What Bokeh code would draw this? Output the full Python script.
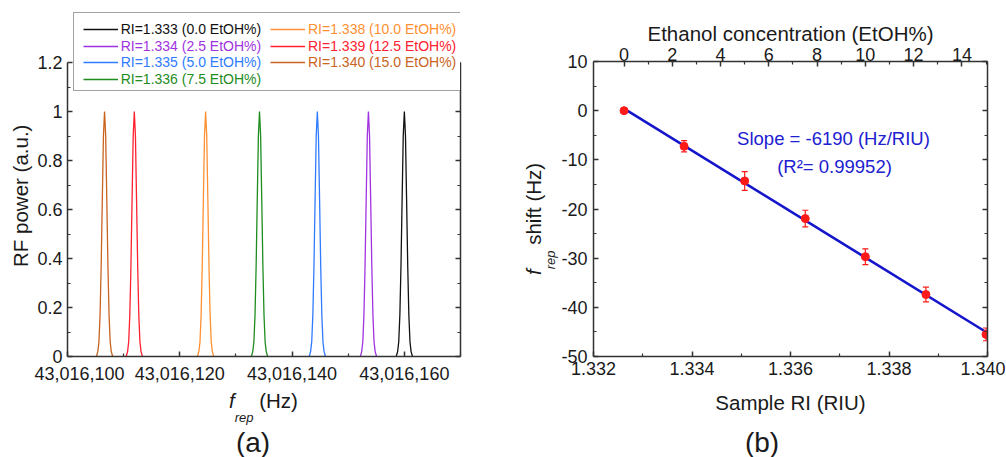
import numpy as np
from bokeh.plotting import figure
from bokeh.layouts import row, column
from bokeh.models import (LinearAxis, Range1d, FixedTicker, NumeralTickFormatter,
                          CustomJSTickFormatter, Legend, LegendItem, Label, Whisker,
                          ColumnDataSource, TeeHead, Div)
from bokeh.embed import file_html
from bokeh.resources import INLINE

FONT = "Liberation Sans"
AXC = "#333333"
TXT = "#1a1a1a"

# ---------------- data: panel (a) ----------------
peak_labels = ["RI=1.333 (0.0 EtOH%)", "RI=1.334 (2.5 EtOH%)", "RI=1.335 (5.0 EtOH%)",
               "RI=1.336 (7.5 EtOH%)", "RI=1.338 (10.0 EtOH%)", "RI=1.339 (12.5 EtOH%)",
               "RI=1.340 (15.0 EtOH%)"]
peak_colors = ["#111111", "#A033E0", "#2F7BFF", "#1E8C1E", "#FF9033", "#FF2030", "#C8641E"]
peak_centers = [43016160.0, 43016153.6, 43016144.5, 43016134.2, 43016124.6, 43016111.9, 43016106.6]
peak_offsets = [-1.45, -1.2, -1.0, -0.8, -0.6, -0.4, -0.2, 0.0, 0.2, 0.4, 0.6, 0.8, 1.0, 1.2, 1.45]
peak_profile = [0.0, 0.02, 0.06, 0.17, 0.37, 0.64, 0.9, 1.0, 0.9, 0.64, 0.37, 0.17, 0.06, 0.02, 0.0]
a_xticks = [43016100, 43016120, 43016140, 43016160]
a_xminor = [43016110, 43016130, 43016150, 43016170]
a_yticks = [0, 0.2, 0.4, 0.6, 0.8, 1.0, 1.2]
a_yminor = [0.1, 0.3, 0.5, 0.7, 0.9, 1.1]

# ---------------- data: panel (b) ----------------
ri = [1.33262, 1.33384, 1.33507, 1.33630, 1.33752, 1.33875, 1.33997]
etoh = [0, 2.5, 5.0, 7.5, 10.0, 12.5, 15.0]
shift = [0.0, -7.25, -14.3, -21.95, -29.7, -37.4, -45.5]
shift_err = [0.0, 1.15, 1.9, 1.7, 1.6, 1.5, 1.3]
b_xticks = [1.332, 1.334, 1.336, 1.338, 1.340]
b_xminor = [1.333, 1.335, 1.337, 1.339]
b_yticks = [-50, -40, -30, -20, -10, 0, 10]
b_yminor = [-45, -35, -25, -15, -5, 5]
b_tticks = [0, 2, 4, 6, 8, 10, 12, 14]
b_tminor = [1, 3, 5, 7, 9, 11, 13, 15]


def style_axis(ax, labels=True, size="18px"):
    ax.axis_line_color = AXC
    ax.axis_line_width = 1.5
    ax.major_tick_line_color = AXC
    ax.major_tick_line_width = 1.5
    ax.minor_tick_line_color = AXC
    ax.minor_tick_line_width = 1.2
    ax.major_tick_in = 5
    ax.major_tick_out = 0
    ax.minor_tick_in = 3
    ax.minor_tick_out = 0
    ax.major_label_text_font = FONT
    ax.major_label_text_font_size = size
    ax.major_label_text_color = TXT
    ax.axis_label_text_font = FONT
    ax.axis_label_text_font_size = "20.5px"
    ax.axis_label_text_font_style = "normal"
    ax.axis_label_text_color = TXT
    if not labels:
        ax.formatter = CustomJSTickFormatter(code="return ''")
        ax.major_label_standoff = 0


def add_label(p, text, sx, sy, size, color=TXT, style="normal", align="center",
              baseline="middle", angle=0.0):
    p.add_layout(Label(x=sx, y=sy, x_units="screen", y_units="screen", text=text,
                       text_font=FONT, text_font_size=size, text_font_style=style,
                       text_color=color, text_align=align, text_baseline=baseline,
                       angle=angle))


SUB = "font-size:13px;font-style:italic;vertical-align:-14px;line-height:0;"
BASE = f"font-family:'{FONT}';color:{TXT};white-space:nowrap;line-height:1;"
ROT = "position:absolute;transform-origin:0 0;transform:rotate(-90deg);font-size:20.5px;"

# ======================= panel (a) =======================
YA_W = 34                                  # width of the rotated y-title strip
A_LEFT, A_BOTTOM, A_TOP1 = 67, 356, 62    # frame left/bottom, pixel row of y=1.2
A_FTOP = 12                                # frame top (above legend box)
A_RIGHT = 460
PA_W = 505 - YA_W
a_ymax = a_yticks[-1] * (A_BOTTOM - A_FTOP) / (A_BOTTOM - A_TOP1)
pa = figure(width=PA_W, height=386, x_range=Range1d(43016100, 43016170),
            y_range=Range1d(0, a_ymax),
            output_backend="svg", toolbar_location=None,
            min_border_left=A_LEFT - YA_W, min_border_right=505 - A_RIGHT,
            min_border_top=A_FTOP, min_border_bottom=386 - A_BOTTOM)
pa.xgrid.visible = False
pa.ygrid.visible = False
pa.outline_line_color = None
pa.background_fill_color = "white"
pa.border_fill_color = None

peak_renderers = []
for lab, col, c in zip(peak_labels, peak_colors, peak_centers):
    peak_renderers.append(pa.line([c + o for o in peak_offsets], peak_profile,
                                  line_color=col, line_width=1.3))

xa = pa.xaxis[0]
xa.ticker = FixedTicker(ticks=a_xticks, minor_ticks=a_xminor)
xa.formatter = NumeralTickFormatter(format="0,0")
style_axis(xa)
xa.major_label_standoff = 10

ya = pa.yaxis[0]
ya.ticker = FixedTicker(ticks=a_yticks, minor_ticks=a_yminor)
ya.formatter = CustomJSTickFormatter(code="return Number(tick.toFixed(1)).toString()")
style_axis(ya)
ya.bounds = (a_yticks[0], a_yticks[-1])
ya.major_label_standoff = 5

ra = LinearAxis(ticker=FixedTicker(ticks=a_yticks, minor_ticks=a_yminor))
style_axis(ra, labels=False)
ra.bounds = (a_yticks[0], a_yticks[-1])
pa.add_layout(ra, "right")

# legend frame (invisible item sized to the box)
dummy = pa.line(x=[0], y=[0], line_alpha=0)
box = Legend(items=[LegendItem(label=" ", renderers=[dummy])],
             location=(73.3 - A_LEFT, A_BOTTOM - 91), glyph_width=386, glyph_height=77,
             label_standoff=0, label_width=0, label_height=0, padding=0, margin=0,
             label_text_font_size="1px", border_line_color="#444444", border_line_width=1.5,
             background_fill_color="white", background_fill_alpha=1.0)
pa.add_layout(box)

row_centers = [29.0, 45.7, 62.3, 79.0]
col_starts = [82.7, 270.0]
for i, (lab, col, rend) in enumerate(zip(peak_labels, peak_colors, peak_renderers)):
    ci, rr = (0, i) if i < 4 else (1, i - 4)
    h = 20
    lg = Legend(items=[LegendItem(label=lab, renderers=[rend])],
                location=(col_starts[ci] - A_LEFT, A_BOTTOM - (row_centers[rr] + h / 2)),
                glyph_width=35, glyph_height=h, label_height=h, label_standoff=3,
                padding=0, margin=0, spacing=0,
                label_text_font=FONT, label_text_font_size="14px", label_text_color=col,
                border_line_alpha=0, background_fill_alpha=0)
    pa.add_layout(lg)

div_ya = Div(width=YA_W, height=456, margin=0, disable_math=True, text=(
    f"<div style=\"position:relative;width:{YA_W}px;height:456px;{BASE}\">"
    f"<div style=\"{ROT}left:10.5px;top:267px;\">RF power (a.u.)</div></div>"))

# text under panel (a): x-axis title and panel tag
div_a = Div(width=PA_W, height=70, margin=0, disable_math=True, text=(
    f"<div style=\"position:relative;width:{PA_W}px;height:70px;{BASE}\">"
    f"<div style=\"position:absolute;left:0;top:5px;width:{2 * (263.5 - YA_W)}px;"
    f"text-align:center;font-size:20.5px;\">"
    f"<span style=\"font-style:italic\">f</span><span style=\"{SUB}\">rep</span> (Hz)</div>"
    f"<div style=\"position:absolute;left:0;top:42.5px;width:{2 * (253 - YA_W)}px;"
    f"text-align:center;font-size:28px;\">(a)</div>"
    f"</div>"))

# rotated y title of panel (b)
div_yl = Div(width=44, height=456, margin=0, disable_math=True, text=(
    f"<div style=\"position:relative;width:44px;height:456px;{BASE}\">"
    f"<div style=\"{ROT}left:19px;top:275px;\">"
    f"<span style=\"font-style:italic\">f</span><span style=\"{SUB}\">rep</span> shift (Hz)</div>"
    f"</div>"))

# ======================= panel (b) =======================
B_X0 = 505 + 44
B_LEFT, B_BOTTOM, B_TOP = 593, 356, 61
pb = figure(width=456, height=420, x_range=Range1d(1.332, 1.340), y_range=Range1d(-50, 10),
            output_backend="svg", toolbar_location=None,
            min_border_left=B_LEFT - B_X0, min_border_right=B_X0 + 456 - 987,
            min_border_top=B_TOP, min_border_bottom=420 - B_BOTTOM)
pb.xgrid.visible = False
pb.ygrid.visible = False
pb.outline_line_color = None
pb.background_fill_color = "white"
pb.border_fill_color = None

k = (ri[-1] - ri[0]) / (etoh[-1] - etoh[0])
pb.extra_x_ranges = {"etoh": Range1d(etoh[0] + (1.332 - ri[0]) / k, etoh[0] + (1.340 - ri[0]) / k)}

coef = np.polyfit(ri, shift, 1)
fx = [ri[0], ri[-1]]
pb.line(fx, [coef[0] * v + coef[1] for v in fx], line_color="#1515CC", line_width=2.6)

src = ColumnDataSource(dict(x=ri, y=shift,
                            lo=[s - e for s, e in zip(shift, shift_err)],
                            hi=[s + e for s, e in zip(shift, shift_err)]))
pb.add_layout(Whisker(source=src, base="x", lower="lo", upper="hi", line_color="#FF1A1A",
                      line_width=1.2,
                      lower_head=TeeHead(size=6, line_color="#FF1A1A", line_width=1.2),
                      upper_head=TeeHead(size=6, line_color="#FF1A1A", line_width=1.2)))
pb.scatter("x", "y", source=src, size=8, fill_color="#FF1A1A", line_color="#FF1A1A")

xb = pb.xaxis[0]
xb.ticker = FixedTicker(ticks=b_xticks, minor_ticks=b_xminor)
xb.formatter = CustomJSTickFormatter(code="return tick.toFixed(3)")
style_axis(xb)
xb.major_label_standoff = 5
xb.axis_label = "Sample RI (RIU)"
xb.axis_label_standoff = 13

yb = pb.yaxis[0]
yb.ticker = FixedTicker(ticks=b_yticks, minor_ticks=b_yminor)
yb.formatter = CustomJSTickFormatter(code="return tick.toFixed(0)")
style_axis(yb)
yb.major_label_standoff = 6

rb = LinearAxis(ticker=FixedTicker(ticks=b_yticks, minor_ticks=b_yminor))
style_axis(rb, labels=False)
pb.add_layout(rb, "right")

tb = LinearAxis(x_range_name="etoh", ticker=FixedTicker(ticks=b_tticks, minor_ticks=b_tminor))
tb.formatter = CustomJSTickFormatter(code="return tick.toFixed(0)")
style_axis(tb)
tb.major_label_standoff = 1
tb.axis_label = "Ethanol concentration (EtOH%)"
tb.axis_label_standoff = 0
pb.add_layout(tb, "above")

# fit annotation
add_label(pb, "Slope = -6190 (Hz/RIU)", 833 - B_LEFT, B_BOTTOM - 138, "18.5px", color="#2020D0")
add_label(pb, "(R\u00b2= 0.99952)", 834 - B_LEFT, B_BOTTOM - 166, "18.5px", color="#2020D0")

div_b = Div(width=456, height=36, margin=0, disable_math=True, text=(
    f"<div style=\"position:relative;width:456px;height:36px;{BASE}\">"
    f"<div style=\"position:absolute;left:0;top:8.5px;width:{2 * (762 - B_X0)}px;"
    f"text-align:center;font-size:28px;\">(b)</div></div>"))

layout = row(div_ya, column(pa, div_a), div_yl, column(pb, div_b))
open("out.html", "w").write(file_html(layout, INLINE))
